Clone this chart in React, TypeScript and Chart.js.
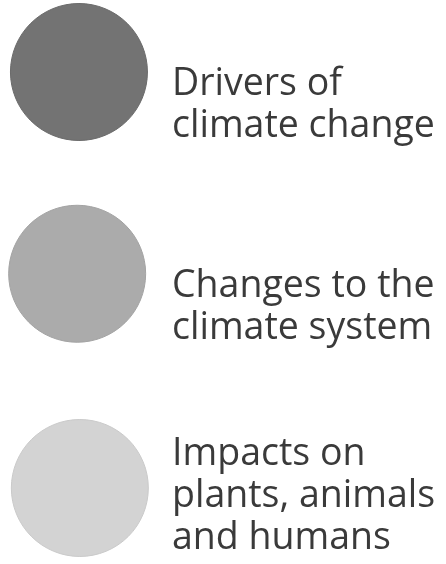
import React, { useEffect, useRef } from "react";
import { Chart, registerables } from "chart.js";

Chart.register(...registerables);

// ---- data ----
const categories = [
  "Drivers of climate change",
  "Changes to the climate system",
  "Impacts on plants, animals and humans",
];
const labelLines = [
  ["Drivers of", "climate change"],
  ["Changes to the", "climate system"],
  ["Impacts on", "plants, animals", "and humans"],
];
const rowValues = [0, 0.97, 2];
const xValues = [1.77, 1.73, 1.79];
const fillColors = ["#737373", "#ababab", "#d3d3d3"];
const borderColors = ["#6a6a6a", "#a3a3a3", "#cacaca"];

// ---- style ----
const TEXT_X = 172;
const LINE_HEIGHT = 42;
const FIRST_BASELINE_OFFSET = [23, 23, -23];
const FONT = "37.5px 'Open Sans'";
const TEXT_COLOR = "#3a3a3a";

const labelPlugin = {
  id: "rowLabels",
  afterDatasetsDraw(chart: any) {
    const ctx = chart.ctx;
    const meta = chart.getDatasetMeta(0);
    ctx.save();
    ctx.font = FONT;
    ctx.fillStyle = TEXT_COLOR;
    ctx.textAlign = "left";
    ctx.textBaseline = "alphabetic";
    meta.data.forEach((pt: any, i: number) => {
      const lines = labelLines[i];
      const y0 = pt.y + FIRST_BASELINE_OFFSET[i];
      lines.forEach((line, j) => {
        ctx.fillText(line, TEXT_X, y0 + j * LINE_HEIGHT);
      });
    });
    ctx.restore();
  },
};

export default function App() {
  const ref = useRef<HTMLCanvasElement | null>(null);
  useEffect(() => {
    if (!ref.current) return;
    const chart = new Chart(ref.current, {
      type: "scatter",
      data: {
        labels: categories,
        datasets: [
          {
            label: "Legend",
            data: rowValues.map((y, i) => ({ x: xValues[i], y })),
            backgroundColor: fillColors,
            borderColor: borderColors,
            borderWidth: 1,
            pointRadius: 68.5,
            pointHoverRadius: 68.5,
            clip: false,
          },
        ],
      },
      options: {
        animation: false,
        responsive: true,
        maintainAspectRatio: false,
        layout: { padding: 0, autoPadding: false },
        plugins: { legend: { display: false }, tooltip: { enabled: false } },
        scales: {
          x: { type: "linear", display: false, min: 0, max: 10 },
          y: {
            type: "linear",
            display: false,
            reverse: true,
            min: -72 / 208,
            max: 2 + 76 / 208,
          },
        },
      },
      plugins: [labelPlugin],
    });
    return () => chart.destroy();
  }, []);
  return (
    <div
      style={{
        position: "fixed",
        left: 0,
        top: 0,
        width: 446,
        height: 564,
        background: "#fff",
      }}
    >
      <canvas ref={ref} />
    </div>
  );
}
